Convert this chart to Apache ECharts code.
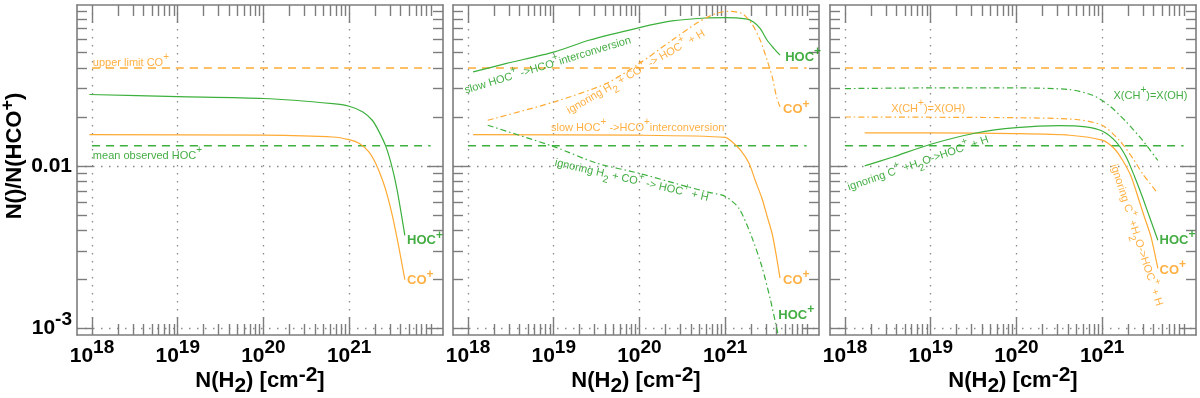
<!DOCTYPE html>
<html>
<head>
<meta charset="utf-8">
<script src="https://cdn.jsdelivr.net/npm/echarts@6/dist/echarts.min.js"></script>
<style>
html, body { margin: 0; padding: 0; background: #fff; }
#chart { width: 1200px; height: 398px; }
</style>
</head>
<body>
<div id="chart"></div>
<script>
// x = log10 N(H2) [cm^-2], y = N()/N(HCO+)
var xMajor = [18, 19, 20, 21];
var yMajor = [-3, -2];
var yTickText = { '-3': '{b|10}{s|-3}', '-2': '{b|0.01}' };
var upperCO = 0.04;
var meanHOC = 0.0133;
var limitX = [18.0, 21.95];

// panel 1 : standard model
var p1HocX = [17.97, 19.0, 20.0, 20.81, 21.0, 21.16, 21.27, 21.35, 21.43, 21.50, 21.56, 21.65];
var p1HocY = [0.0275, 0.0267, 0.0260, 0.0242, 0.0233, 0.0215, 0.0191, 0.0162, 0.0131, 0.00986, 0.0071, 0.00374];
var p1CoX = [17.97, 20.0, 20.81, 21.0, 21.12, 21.23, 21.31, 21.39, 21.45, 21.51, 21.58, 21.65];
var p1CoY = [0.0156, 0.01545, 0.01507, 0.0145, 0.01374, 0.01219, 0.01035, 0.00817, 0.00646, 0.00479, 0.00316, 0.0020];

// panel 2 : slow interconversion / ignoring H2 + CO+
var p2SlowHocX = [18.06, 18.45, 19.01, 19.41, 20.0, 20.38, 20.77, 21.0, 21.24, 21.33, 21.41, 21.49, 21.57, 21.64];
var p2SlowHocY = [0.0379, 0.0427, 0.0503, 0.0593, 0.0710, 0.078, 0.0813, 0.0817, 0.0802, 0.0769, 0.070, 0.0593, 0.0527, 0.048];
var p2SlowCoX = [18.06, 20.0, 21.0, 21.08, 21.18, 21.28, 21.35, 21.43, 21.49, 21.55, 21.60, 21.64];
var p2SlowCoY = [0.0156, 0.01545, 0.0150, 0.0141, 0.0125, 0.01035, 0.00817, 0.00631, 0.0049, 0.0038, 0.00275, 0.00204];
var p2IgnCoX = [18.23, 19.01, 19.61, 20.0, 20.38, 20.69, 20.89, 21.04, 21.2, 21.31, 21.41, 21.49, 21.55, 21.6, 21.64];
var p2IgnCoY = [0.0191, 0.0248, 0.0321, 0.0427, 0.0593, 0.0769, 0.0865, 0.0894, 0.0865, 0.0752, 0.0593, 0.0447, 0.0352, 0.0265, 0.0231];
var p2IgnHocX = [18.23, 19.01, 19.5, 20.0, 20.5, 20.8, 21.0, 21.16, 21.31, 21.43, 21.53, 21.59, 21.62];
var p2IgnHocY = [0.0178, 0.0131, 0.0104, 0.0090, 0.0076, 0.0069, 0.0065, 0.0055, 0.00366, 0.00239, 0.00149, 0.00107, 0.00091];

// panel 3 : X(CH+)=X(OH) / ignoring C+ + H2O
var p3EqHocX = [18.0, 19.0, 20.0, 20.62, 20.89, 21.08, 21.28, 21.47, 21.65];
var p3EqHocY = [0.0299, 0.0302, 0.0302, 0.0295, 0.0272, 0.0236, 0.0187, 0.0144, 0.0108];
var p3EqCoX = [18.0, 20.0, 20.7, 21.0, 21.2, 21.36, 21.47, 21.65];
var p3EqCoY = [0.0200, 0.0198, 0.0193, 0.0178, 0.0144, 0.0111, 0.00898, 0.00677];
var p3IgnCoX = [18.23, 19.0, 20.0, 20.62, 21.0, 21.14, 21.24, 21.34, 21.43, 21.49, 21.57, 21.65];
var p3IgnCoY = [0.01595, 0.01595, 0.0158, 0.01545, 0.0144, 0.0128, 0.0108, 0.00856, 0.00615, 0.0049, 0.00366, 0.00234];
var p3IgnHocX = [18.23, 18.56, 19.0, 19.53, 20.0, 20.5, 20.81, 21.0, 21.16, 21.28, 21.38, 21.47, 21.55, 21.65];
var p3IgnHocY = [0.0100, 0.01135, 0.0136, 0.01595, 0.0172, 0.0177, 0.0174, 0.0164, 0.0141, 0.01135, 0.00856, 0.00644, 0.0049, 0.00349];

//------------------ style -------------
var green = '#3cb03c';       // lines
var greenText = '#149814';   // labels
var orange = '#ffaa33';
var orangeText = '#ff9c14';
var frameColor = '#7d7d7d';
var fontFam = '"Liberation Sans", Arial, Helvetica, sans-serif';
var xMin = 17.825, xMax = 22.095, yMin = -3.04, yMax = -1.01;
var dashDot = [6, 3, 1.5, 3];

// minor ticks 2..9 in each decade
var xMinor = [], yMinor = [];
for (var d = 18; d <= 21; d++) {
	for (var k = 2; k <= 9; k++) xMinor.push(d + Math.log10(k));
}
for (var e = -3; e <= -2; e++) {
	for (var k2 = 2; k2 <= 9; k2++) yMinor.push(e + Math.log10(k2));
}

var grids = [
	{ left: 77, top: 5, width: 366, height: 330 },
	{ left: 453, top: 5, width: 366, height: 330 },
	{ left: 830, top: 5, width: 366, height: 330 }
];

var tickRich = {
	b: { fontSize: 21, fontWeight: 'bold', fontFamily: fontFam, color: '#000', lineHeight: 36, verticalAlign: 'middle' },
	s: { fontSize: 19, fontWeight: 'bold', fontFamily: fontFam, color: '#000', lineHeight: 19, verticalAlign: 'top' }
};
var nameRich = {
	t: { fontSize: 22, fontWeight: 'bold', fontFamily: fontFam, color: '#000', lineHeight: 32, verticalAlign: 'middle' },
	d: { fontSize: 21, fontWeight: 'bold', fontFamily: fontFam, color: '#000', lineHeight: 21, verticalAlign: 'bottom' },
	u: { fontSize: 21, fontWeight: 'bold', fontFamily: fontFam, color: '#000', lineHeight: 21, verticalAlign: 'top' }
};

function baseAxis(g, isX, pos) {
	return {
		type: 'value', gridIndex: g, position: pos, offset: 0,
		min: isX ? xMin : yMin, max: isX ? xMax : yMax,
		axisLine: { show: true, onZero: false, lineStyle: { color: frameColor, width: 1.6 } },
		axisTick: { show: false }, axisLabel: { show: false }, splitLine: { show: false },
		nameMoveOverlap: false
	};
}

function ticks(vals, len) {
	return { show: true, inside: true, length: len, customValues: vals, lineStyle: { color: frameColor, width: 1.4 } };
}

var xAxes = [], yAxes = [];
for (var g = 0; g < 3; g++) {
	// bottom major with labels and grid
	var xb = baseAxis(g, true, 'bottom');
	xb.axisTick = ticks(xMajor, 18);
	xb.axisLabel = {
		show: true, customValues: xMajor, margin: 3, rich: tickRich,
		formatter: function (v) { return '{b|10}{s|' + Math.round(v) + '}'; }
	};
	xb.splitLine = { show: true, lineStyle: { color: '#8a8a8a', width: 1.3, type: [1.5, 6.5] } };
	xb.name = '{t|N(H}{d|2}{t|) [cm}{u|-2}{t|]}';
	xb.nameLocation = 'middle';
	xb.nameGap = 30;
	xb.nameTextStyle = { rich: nameRich };
	xAxes.push(xb);
	var xbm = baseAxis(g, true, 'bottom');
	xbm.axisLine.show = false;
	xbm.axisTick = ticks(xMinor, 11);
	xAxes.push(xbm);
	var xt = baseAxis(g, true, 'top');
	xt.axisTick = ticks(xMajor, 18);
	xAxes.push(xt);
	var xtm = baseAxis(g, true, 'top');
	xtm.axisLine.show = false;
	xtm.axisTick = ticks(xMinor, 11);
	xAxes.push(xtm);

	// left major
	var yl = baseAxis(g, false, 'left');
	yl.axisTick = ticks(yMajor, 16);
	yl.splitLine = { show: true, lineStyle: { color: '#8a8a8a', width: 1.3, type: [1.5, 6.5] } };
	if (g === 0) {
		yl.axisLabel = {
			show: true, customValues: yMajor, margin: 5, rich: tickRich,
			formatter: function (v) { return yTickText[String(Math.round(v))]; }
		};
		yl.name = '{t|N()/N(HCO}{u|+}{t|)}';
		yl.nameLocation = 'middle';
		yl.nameGap = 46;
		yl.nameTextStyle = {
			rich: {
				t: { fontSize: 22, fontWeight: 'bold', fontFamily: fontFam, color: '#000', lineHeight: 32, verticalAlign: 'middle' },
				u: { fontSize: 18, fontWeight: 'bold', fontFamily: fontFam, color: '#000', lineHeight: 18, verticalAlign: 'top' }
			},
			padding: [0, 0, 0, 28]
		};
	}
	yAxes.push(yl);
	var ylm = baseAxis(g, false, 'left');
	ylm.axisLine.show = false;
	ylm.axisTick = ticks(yMinor, 10);
	yAxes.push(ylm);
	var yr = baseAxis(g, false, 'right');
	yr.axisTick = ticks(yMajor, 16);
	yAxes.push(yr);
	var yrm = baseAxis(g, false, 'right');
	yrm.axisLine.show = false;
	yrm.axisTick = ticks(yMinor, 10);
	yAxes.push(yrm);
}

function pts(xs, ys) {
	return xs.map(function (x, i) { return [x, Math.log10(ys[i])]; });
}

function curve(g, xs, ys, color, dash, width) {
	return {
		type: 'line', xAxisIndex: g * 4, yAxisIndex: g * 4,
		data: pts(xs, ys), showSymbol: false, symbol: 'none',
		smooth: 0.25, silent: true, z: 3,
		lineStyle: { color: color, width: width || 1.2, type: dash || 'solid' }
	};
}

function limit(g, val, color) {
	return curve(g, limitX, [val, val], color, [8, 6], 1.5);
}

function noteRich(size, weight, color) {
	return {
		a: { fontSize: size, fontWeight: weight, color: color, fontFamily: fontFam, lineHeight: size + 10, verticalAlign: 'middle' },
		u: { fontSize: size - 1, fontWeight: weight, color: color, fontFamily: fontFam, lineHeight: size - 1, verticalAlign: 'top' },
		d: { fontSize: size - 1, fontWeight: weight, color: color, fontFamily: fontFam, lineHeight: size - 1, verticalAlign: 'bottom' }
	};
}

// text placed at data coordinates (log10 N, log10 ratio)
function note(g, x, y, text, color, rot, align, big) {
	return {
		type: 'scatter', xAxisIndex: g * 4, yAxisIndex: g * 4,
		symbolSize: 0, silent: true, z: 5,
		data: [[x, y]],
		label: {
			show: true, position: [0, 0], formatter: text,
			align: align || 'center', verticalAlign: 'middle', rotate: rot || 0,
			rich: big ? noteRich(13, 'bold', color) : noteRich(11, 'normal', color)
		}
	};
}

var series = [];
for (var p = 0; p < 3; p++) {
	series.push(limit(p, upperCO, orange));
	series.push(limit(p, meanHOC, green));
}

// panel 1
series.push(curve(0, p1HocX, p1HocY, green));
series.push(curve(0, p1CoX, p1CoY, orange));
series.push(note(0, 18.01, -1.368, '{a|upper limit CO}{u|+}', orangeText, 0, 'left'));
series.push(note(0, 18.01, -1.94, '{a|mean observed HOC}{u|+}', greenText, 0, 'left'));
series.push(note(0, 21.676, -2.46, '{a|HOC}{u|+}', greenText, 0, 'left', true));
series.push(note(0, 21.676, -2.703, '{a|CO}{u|+}', orangeText, 0, 'left', true));

// panel 2
series.push(curve(1, p2SlowHocX, p2SlowHocY, green));
series.push(curve(1, p2SlowCoX, p2SlowCoY, orange));
series.push(curve(1, p2IgnCoX, p2IgnCoY, orange, dashDot));
series.push(curve(1, p2IgnHocX, p2IgnHocY, green, dashDot));
series.push(note(1, 18.93, -1.381, '{a|slow HOC}{u|+}{a| ->HCO}{u|+}{a|interconversion}', greenText, 17));
series.push(note(1, 19.96, -1.422, '{a|ignoring H}{d|2}{a| + CO}{u|+}{a| -> HOC}{u|+}{a| + H}', orangeText, 30));
series.push(note(1, 19.98, -1.764, '{a|slow HOC}{u|+}{a| ->HCO}{u|+}{a|interconversion}', orangeText, 0));
series.push(note(1, 19.91, -2.088, '{a|ignoring H}{d|2}{a| + CO}{u|+}{a| -> HOC}{u|+}{a| + H}', greenText, -13));
series.push(note(1, 21.70, -1.33, '{a|HOC}{u|+}', greenText, 0, 'left', true));
series.push(note(1, 21.676, -1.654, '{a|CO}{u|+}', orangeText, 0, 'left', true));
series.push(note(1, 21.676, -2.703, '{a|CO}{u|+}', orangeText, 0, 'left', true));
series.push(note(1, 21.62, -2.918, '{a|HOC}{u|+}', greenText, 0, 'left', true));

// panel 3
series.push(curve(2, p3EqHocX, p3EqHocY, green, dashDot));
series.push(curve(2, p3EqCoX, p3EqCoY, orange, dashDot));
series.push(curve(2, p3IgnCoX, p3IgnCoY, orange));
series.push(curve(2, p3IgnHocX, p3IgnHocY, green));
series.push(note(2, 18.97, -1.648, '{a|X(CH}{u|+}{a|)=X(OH)}', orangeText, 0));
series.push(note(2, 21.564, -1.567, '{a|X(CH}{u|+}{a|)=X(OH)}', greenText, 0));
series.push(note(2, 18.854, -1.985, '{a|ignoring C}{u|+}{a| +H}{d|2}{a|O->HOC}{u|+}{a| + H}', greenText, 19));
series.push(note(2, 21.40, -2.425, '{a|ignoring C}{u|+}{a| +H}{d|2}{a|O->HOC}{u|+}{a| + H}', orangeText, -72));
series.push(note(2, 21.67, -2.457, '{a|HOC}{u|+}', greenText, 0, 'left', true));
series.push(note(2, 21.67, -2.642, '{a|CO}{u|+}', orangeText, 0, 'left', true));

var myChart = echarts.init(document.getElementById('chart'), null, { renderer: 'canvas' });
myChart.setOption({
	animation: false,
	backgroundColor: '#fff',
	textStyle: { fontFamily: fontFam },
	grid: grids.map(function (gr) {
		return { left: gr.left, top: gr.top, width: gr.width, height: gr.height, outerBoundsMode: 'none', containLabel: false };
	}),
	xAxis: xAxes,
	yAxis: yAxes,
	series: series
});
</script>
</body>
</html>
